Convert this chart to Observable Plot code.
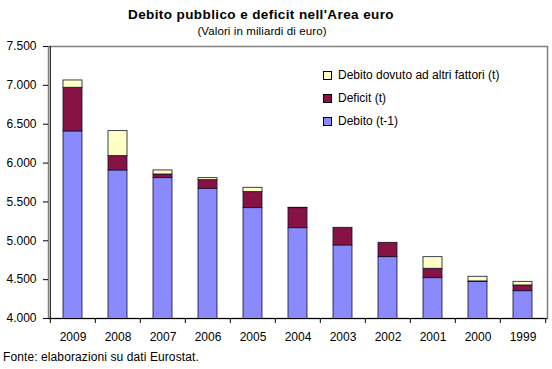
<!DOCTYPE html>
<html><head><meta charset="utf-8">
<script src="https://cdn.jsdelivr.net/npm/d3@7"></script>
<script src="https://cdn.jsdelivr.net/npm/@observablehq/plot@0.6"></script>
<style>
body{margin:0;background:#fff;font-family:"Liberation Sans",Arial,sans-serif;}
#wrap{position:relative;width:552px;height:369px;overflow:hidden;}
.t{position:absolute;white-space:nowrap;color:#000;}
#title{left:261px;top:7px;transform:translateX(-50%);font-size:13.5px;font-weight:bold;letter-spacing:0.4px;}
#sub{left:262px;top:25px;transform:translateX(-50%);font-size:11.5px;letter-spacing:0.1px;}
#chart{position:absolute;left:0;top:40px;}
#cap{left:3px;top:350px;font-size:12px;letter-spacing:0.1px;}
.lg{position:absolute;left:323px;font-size:12px;white-space:nowrap;}
.lg span{display:inline-block;width:7px;height:7px;border:1px solid #000;margin-right:6px;vertical-align:-1px;}
</style></head>
<body>
<div id="wrap">
<div id="title" class="t">Debito pubblico e deficit nell'Area euro</div>
<div id="sub" class="t">(Valori in miliardi di euro)</div>
<div id="chart"></div>
<div id="legend"></div>
<div id="cap" class="t">Fonte: elaborazioni su dati Eurostat.</div>
</div>
<script>
const years = ["2009","2008","2007","2006","2005","2004","2003","2002","2001","2000","1999"];
const debito = [6407,5905,5806,5669,5420,5162,4940,4789,4519,4472,4351];
const deficit = [562,184,47,111,206,258,227,185,121,5,74];
const altri = [94,322,52,26,56,5,0,0,149,60,47];
const seriesNames = ["Debito (t-1)","Deficit (t)","Debito dovuto ad altri fattori (t)"];
const colors = ["#8a8afc","#861343","#ffffc4"];
const yTicks = [4000,4500,5000,5500,6000,6500,7000,7500];

const rows = [];
years.forEach((y,i)=>{
  rows.push({year:y, serie:seriesNames[0], v:debito[i], o:0});
  rows.push({year:y, serie:seriesNames[1], v:deficit[i], o:1});
  rows.push({year:y, serie:seriesNames[2], v:altri[i], o:2});
});
const fmt = d => d3.format(",")(d).replace(/,/g,".");
const W = 552, H = 305, mL = 48, mR = 5, mT = 6, mB = 27;
const step = (W - mL - mR) / years.length;

const chart = Plot.plot({
  width: W, height: H,
  marginLeft: mL, marginRight: mR, marginTop: mT, marginBottom: mB,
  style: {fontFamily: '"Liberation Sans", Arial, sans-serif', fontSize: "12px", color: "#000", background: "#fff"},
  x: {type: "band", domain: years, paddingInner: 0.58, paddingOuter: 0.29, label: null},
  y: {domain: [4000, 7500], label: null},
  color: {domain: seriesNames, range: colors},
  marks: [
    Plot.frame({stroke: "#808080", strokeWidth: 1.5}),
    Plot.barY(rows, Plot.stackY({x: "year", y: "v", fill: "serie", order: "o", stroke: "#101030", strokeWidth: 0.8, clip: true})),
    Plot.ruleY([4000], {stroke: "#000", strokeWidth: 1}),
    Plot.ruleX([years[0]], {dx: -step/2, y1: 4000, y2: 7500, stroke: "#000", strokeWidth: 1}),
    Plot.axisY({ticks: yTicks, tickSize: 5, tickPadding: 7, tickFormat: fmt, fontSize: 12, stroke: "#000"}),
    Plot.axisX({tickSize: 5, dx: -step/2, tickFormat: () => "", stroke: "#000"}),
    Plot.axisX({ticks: [years[years.length-1]], tickSize: 5, dx: step/2, tickFormat: () => "", stroke: "#000"}),
    Plot.axisX({tickSize: 0, tickPadding: 14, fontSize: 12})
  ]
});
document.getElementById("chart").appendChild(chart);

const lg = document.getElementById("legend");
const order = [2,1,0];
order.forEach((k,j)=>{
  const d = document.createElement("div");
  d.className = "lg";
  d.style.top = (68 + j*23) + "px";
  d.innerHTML = `<span style="background:${colors[k]}"></span>${seriesNames[k]}`;
  lg.appendChild(d);
});
</script>
</body></html>
